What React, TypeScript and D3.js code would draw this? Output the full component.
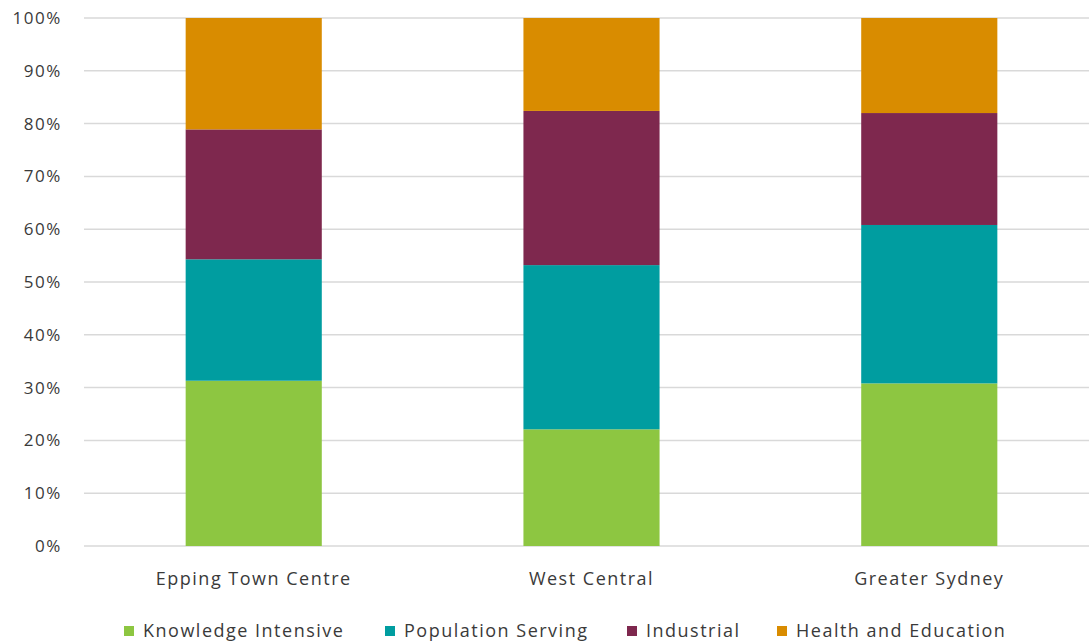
import React from "react";
import * as d3 from "d3";

const categories = ["Epping Town Centre", "West Central", "Greater Sydney"];
const seriesNames = ["Knowledge Intensive", "Population Serving", "Industrial", "Health and Education"];
const knowledgeIntensive = [31.3, 22.1, 30.8];
const populationServing = [23.0, 31.1, 30.0];
const industrial = [24.6, 29.2, 21.2];
const healthEducation = [21.1, 17.6, 18.0];
const colors = ["#8DC641", "#009DA0", "#7E284E", "#D98C00"];
const yTicks = [0, 10, 20, 30, 40, 50, 60, 70, 80, 90, 100];

const W = 1089, H = 644;
const font = "'Open Sans', sans-serif";
const textColor = "#3a3a3a";

export default function App() {
  const x = d3.scaleBand().domain(categories).range([85, 1098]).paddingInner(0.597).paddingOuter(0.298);
  const y = d3.scaleLinear().domain([0, 100]).range([546, 18]);
  const rows = categories.map((c, i) => ({
    cat: c,
    [seriesNames[0]]: knowledgeIntensive[i],
    [seriesNames[1]]: populationServing[i],
    [seriesNames[2]]: industrial[i],
    [seriesNames[3]]: healthEducation[i],
  }));
  const stacked = d3.stack<any>().keys(seriesNames)(rows);
  const legendX = [124, 385, 627, 777];
  return (
    <svg width={W} height={H} style={{ position: "absolute", left: 0, top: 0, background: "#fff" }}>
      {yTicks.map((t) => (
        <g key={t}>
          <line x1={84} x2={W} y1={y(t)} y2={y(t)} stroke="#d9d9d9" strokeWidth={1.5} />
          <text x={62} y={y(t)} dy="0.35em" textAnchor="end" fontFamily={font} fontSize={17} letterSpacing={1.6} fill={textColor}>{t}%</text>
        </g>
      ))}
      {stacked.map((s, si) => (
        <g key={s.key} fill={colors[si]}>
          {s.map((d: any, i: number) => (
            <rect key={i} x={x(categories[i])} width={x.bandwidth()} y={y(d[1])} height={y(d[0]) - y(d[1])} />
          ))}
        </g>
      ))}
      {categories.map((c) => (
        <text key={c} x={(x(c) as number) + x.bandwidth() / 2} y={579} dy="0.35em" textAnchor="middle" fontFamily={font} fontSize={18} letterSpacing={1.5} fill={textColor}>{c}</text>
      ))}
      {seriesNames.map((n, i) => (
        <g key={n}>
          <rect x={legendX[i]} y={626} width={10} height={10} fill={colors[i]} />
          <text x={legendX[i] + 19} y={631} dy="0.35em" fontFamily={font} fontSize={18} letterSpacing={1.5} fill={textColor}>{n}</text>
        </g>
      ))}
    </svg>
  );
}
